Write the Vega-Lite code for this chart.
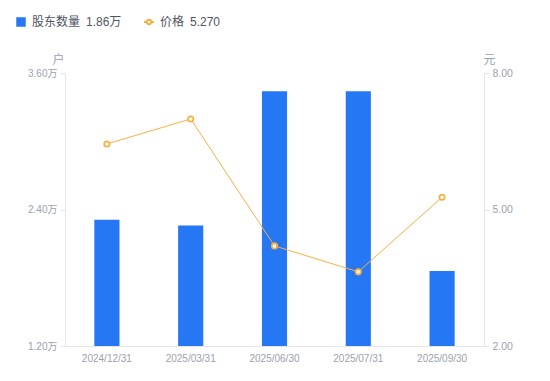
{
  "$schema": "https://vega.github.io/schema/vega-lite/v6.json",
  "width": 419,
  "height": 273,
  "autosize": {"type": "none"},
  "padding": {"left": 65, "top": 73, "right": 66, "bottom": 35},
  "background": "white",
  "config": {
    "view": {"stroke": null},
    "font": "Liberation Sans, Noto Sans CJK SC, sans-serif"
  },
  "data": {
    "values": [
      {"date": "2024/12/31", "holders": 2.31, "price": 6.44},
      {"date": "2025/03/31", "holders": 2.26, "price": 6.99},
      {"date": "2025/06/30", "holders": 3.44, "price": 4.2},
      {"date": "2025/07/31", "holders": 3.44, "price": 3.63},
      {"date": "2025/09/30", "holders": 1.86, "price": 5.27}
    ]
  },
  "encoding": {
    "x": {
      "field": "date",
      "type": "ordinal",
      "sort": null,
      "scale": {"paddingInner": 0.7, "paddingOuter": 0.35},
      "axis": {
        "title": null,
        "labelAngle": 0,
        "ticks": false,
        "domainColor": "#e3e5ea",
        "labelColor": "#9ca1ad",
        "labelFontSize": 10,
        "labelPadding": 7
      }
    }
  },
  "layer": [
    {
      "mark": {"type": "bar", "color": "#2577f3", "clip": true},
      "encoding": {
        "y": {
          "field": "holders",
          "type": "quantitative",
          "scale": {"domain": [1.2, 3.6], "nice": false, "zero": false},
          "axis": {
            "title": "户",
            "titleAngle": 0,
            "titleX": -7,
            "titleY": -14,
            "titleAlign": "center",
            "titleBaseline": "middle",
            "titleColor": "#9ca1ad",
            "titleFontSize": 12,
            "titleFontWeight": "normal",
            "values": [1.2, 2.4, 3.6],
            "labelExpr": "format(datum.value, '.2f') + '万'",
            "grid": false,
            "domainColor": "#e3e5ea",
            "tickColor": "#e3e5ea",
            "tickSize": 5,
            "labelPadding": 3,
            "labelColor": "#9ca1ad",
            "labelFontSize": 10
          }
        },
        "fill": {
          "datum": "股东数量",
          "scale": {"range": ["#2577f3"]},
          "legend": {
            "title": null,
            "orient": "none",
            "legendX": -50,
            "legendY": -57,
            "symbolType": "square",
            "symbolSize": 90,
            "labelExpr": "'股东数量\u20021.86万'",
            "labelFontSize": 12,
            "labelColor": "#50555f",
            "labelOffset": 5
          }
        }
      }
    },
    {
      "mark": {
        "type": "line",
        "strokeWidth": 1,
        "point": {"filled": false, "fill": "white", "size": 28, "strokeWidth": 1.8}
      },
      "encoding": {
        "y": {
          "field": "price",
          "type": "quantitative",
          "scale": {"domain": [2, 8], "nice": false, "zero": false},
          "axis": {
            "orient": "right",
            "title": "元",
            "titleAngle": 0,
            "titleX": 5,
            "titleY": -14,
            "titleAlign": "center",
            "titleBaseline": "middle",
            "titleColor": "#9ca1ad",
            "titleFontSize": 12,
            "titleFontWeight": "normal",
            "values": [2, 5, 8],
            "format": ".2f",
            "grid": false,
            "domainColor": "#e3e5ea",
            "tickColor": "#e3e5ea",
            "tickSize": 5,
            "labelPadding": 3,
            "labelColor": "#9ca1ad",
            "labelFontSize": 10.5
          }
        },
        "stroke": {
          "datum": "价格",
          "scale": {"range": ["#f9b042"]},
          "legend": {
            "title": null,
            "orient": "none",
            "legendX": 78,
            "legendY": -57,
            "symbolType": "M-1,0L-0.45,0M0.45,0L1,0M0.45,0A0.45,0.45 0 1,1 -0.45,0A0.45,0.45 0 1,1 0.45,0Z",
            "symbolSize": 100,
            "symbolStrokeWidth": 1.8,
            "symbolFillColor": "white",
            "labelExpr": "'价格\u20025.270'",
            "labelFontSize": 12,
            "labelColor": "#50555f",
            "labelOffset": 5
          }
        }
      }
    }
  ],
  "resolve": {"scale": {"y": "independent", "fill": "independent", "stroke": "independent"}}
}
